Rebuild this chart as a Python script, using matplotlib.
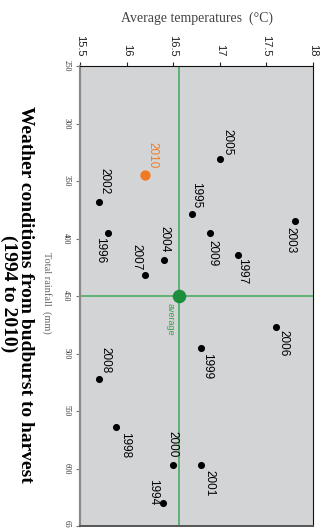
import matplotlib
matplotlib.use("Agg")
import matplotlib.pyplot as plt

# one point per vintage
years = [1994, 1995, 1996, 1997, 1998, 1999, 2000, 2001, 2002,
         2003, 2004, 2005, 2006, 2007, 2008, 2009, 2010]
temperature = [16.39, 16.70, 15.80, 17.20, 15.89, 16.80, 16.50, 16.80, 15.70,
               17.81, 16.40, 17.00, 17.60, 16.20, 15.70, 16.90, 16.20]
rainfall = [630, 379, 395, 414, 564, 495, 597, 597, 368,
            385, 419, 331, 477, 432, 522, 395, 345]

avg_temperature = 16.565
avg_rainfall = 450

temp_ticks = [15.5, 16, 16.5, 17, 17.5, 18]
rain_ticks = [250, 300, 350, 400, 450, 500, 550, 600, 650]

highlight = 2010

# label placement (pixels, screen: dx right, dy down) and alignment
label_pos = {
    1994: (-10, 2, "bottom"), 1995: (4, -6, "bottom"), 1996: (-8, 4, "top"),
    1997: (4, 3, "top"), 1998: (9, 5, "top"), 1999: (6, 5, "top"),
    2000: (-1, -8, "bottom"), 2001: (8, 5, "top"), 2002: (6, -7, "bottom"),
    2003: (-5, 6, "top"), 2004: (1, -8, "bottom"), 2005: (8, -4, "bottom"),
    2006: (8, 3, "top"), 2007: (-9, -5, "bottom"), 2008: (7, -6, "bottom"),
    2009: (2, 7, "top"), 2010: (7, -7, "bottom"),
}

W, H = 326, 528
GREEN_LINE = "#4caa62"
GREEN_DOT = "#1b8f3c"
ORANGE = "#f07a22"


def px(x, y):
    """image pixel (from top-left) -> figure fraction"""
    return x / W, 1 - y / H


fig = plt.figure(figsize=(W / 100, H / 100), dpi=100)
ax = fig.add_axes([80 / W, 2 / H, 233 / W, 460 / H])
ax.set_facecolor("#d3d4d6")

ax.set_xlim(15.5, 18)
ax.set_ylim(650, 250)

ax.axvline(avg_temperature, color=GREEN_LINE, lw=1.2, zorder=1)
ax.axhline(avg_rainfall, color=GREEN_LINE, lw=1.2, zorder=1)
ax.scatter([avg_temperature], [avg_rainfall], s=95, color=GREEN_DOT, zorder=3,
           linewidths=0)
ax.annotate("average", (avg_temperature, avg_rainfall), xytext=(-9, -7),
            textcoords="offset pixels", rotation=-90, ha="center", va="top",
            color="#3aa04e", fontsize=6.5, family="Liberation Sans")

for yr, t, r in zip(years, temperature, rainfall):
    col = ORANGE if yr == highlight else "black"
    size = 55 if yr == highlight else 26
    ax.scatter([t], [r], s=size, color=col, zorder=3, linewidths=0)
    dx, dy, va = label_pos[yr]
    ax.annotate(str(yr), (t, r), xytext=(dx, -dy), textcoords="offset pixels",
                rotation=-90, ha="center", va=va, color=col, fontsize=8.5,
                family="Liberation Sans")

# axes dressing
ax.xaxis.tick_top()
ax.set_xticks(temp_ticks)
ax.set_xticklabels([f"{v:g}" for v in temp_ticks], rotation=-90,
                   fontsize=8, family="Liberation Sans")
ax.tick_params(axis="x", length=3, width=0.8, pad=4, colors="#222222")
ax.set_yticks(rain_ticks)
ax.set_yticklabels([str(v) for v in rain_ticks], rotation=-90, va="center",
                   fontsize=5.5, family="Liberation Serif", color="#333333")
ax.tick_params(axis="y", length=3, width=0.8, pad=4, color="#777777")

ax.spines["left"].set_color("#8a8a8a")
ax.spines["left"].set_linewidth(1.6)
ax.spines["top"].set_color("#111111")
ax.spines["right"].set_color("#111111")
ax.spines["bottom"].set_color("#555555")
ax.spines["bottom"].set_linewidth(1.4)

fig.text(*px(197, 18), "Average temperatures  (°C)", ha="center", va="center",
         fontsize=10, family="Liberation Serif", color="#444444")
fig.text(*px(47, 293), "Total rainfall  (mm)", ha="center", va="center",
         rotation=-90, fontsize=7.5, family="Liberation Serif", color="#666666")
fig.text(*px(34, 294), "Weather conditions from budburst to harvest\n(1994 to 2010)",
         ha="right", va="center", rotation=-90, multialignment="center",
         linespacing=1.0, fontsize=14, fontweight="bold",
         family="Liberation Serif", color="black")

fig.savefig("out.png", dpi=100)
